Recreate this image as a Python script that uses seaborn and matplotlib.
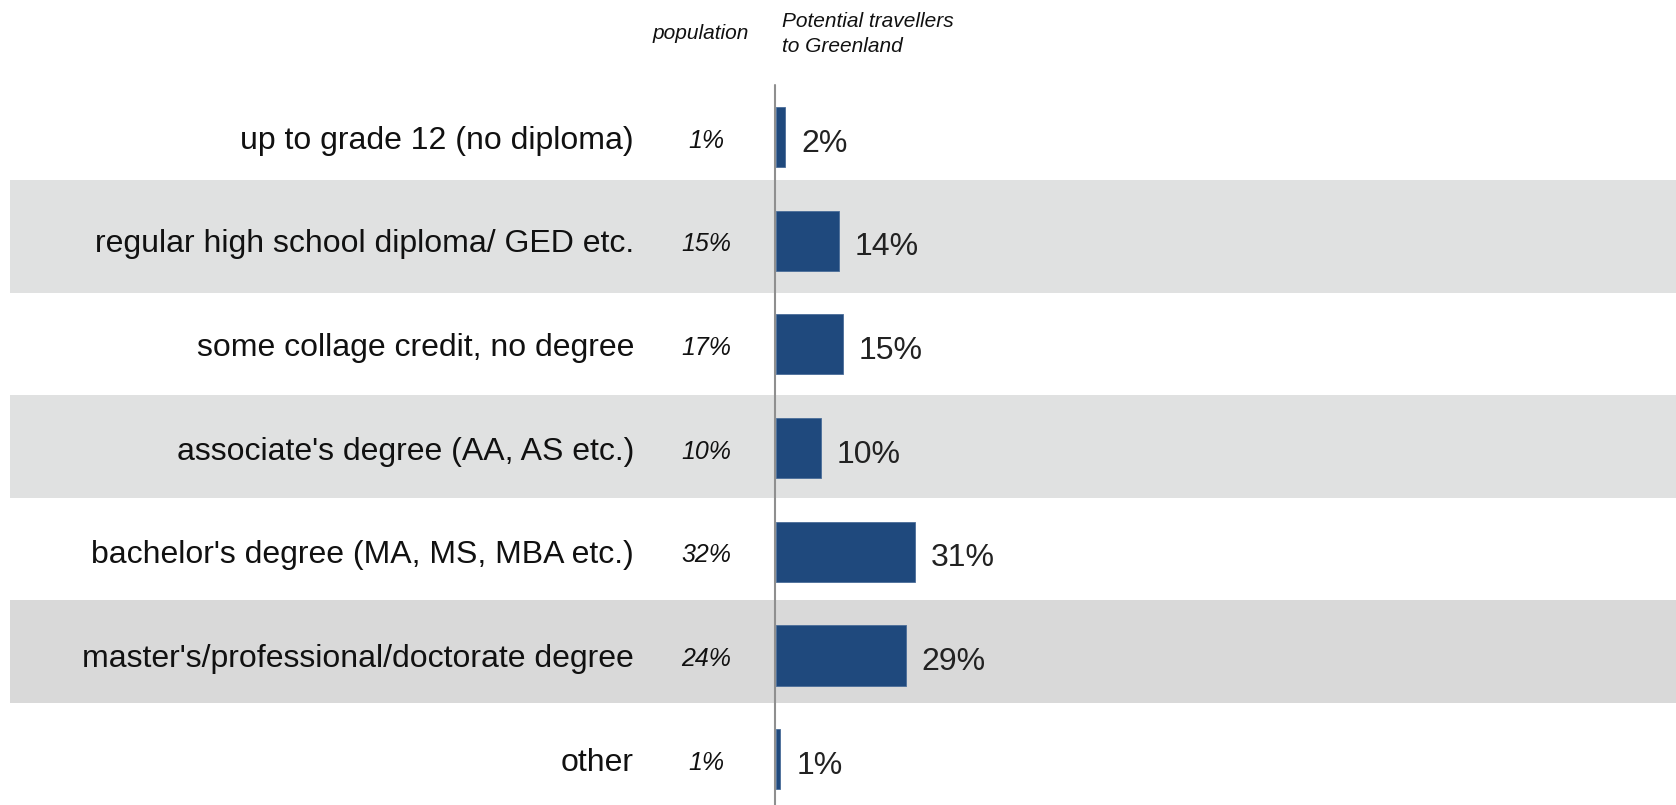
import matplotlib
matplotlib.use("Agg")
import matplotlib.pyplot as plt
import seaborn as sns
import pandas as pd

# Education levels, share of general population and of potential travellers
categories = [
    "up to grade 12 (no diploma)",
    "regular high school diploma/ GED etc.",
    "some collage credit, no degree",
    "associate's degree (AA, AS etc.)",
    "bachelor's degree (MA, MS, MBA etc.)",
    "master's/professional/doctorate degree",
    "other",
]
population = [1, 15, 17, 10, 32, 24, 1]
travellers = [2, 14, 15, 10, 31, 29, 1]

header_population = "population"
header_travellers = ["Potential travellers", "to Greenland"]

df = pd.DataFrame({"category": categories, "travellers": travellers})

sns.set_theme(style="white")
plt.rcParams["font.family"] = ["Liberation Sans", "DejaVu Sans"]

W, H, DPI = 1676, 805, 100
fig = plt.figure(figsize=(W / DPI, H / DPI), dpi=DPI)
ax = fig.add_axes([0, 0, 1, 1])

# horizontal scale: zero line at 776 px, 4.47 px per percentage point
zero_px = 776
px_per_unit = 4.47
row0_px, row_step_px = 137, 103.7

BAR_COLOR = "#1F497D"

sns.barplot(data=df, x="travellers", y="category", orient="h",
            color=BAR_COLOR, width=0.58, saturation=1, ax=ax, zorder=2,
            edgecolor="#4a6d99", linewidth=0.6)

ax.set_xlim(-zero_px / px_per_unit, (W - zero_px) / px_per_unit)
ax.set_ylim((H - row0_px) / row_step_px, -row0_px / row_step_px)

# alternating row shading
bands = [(1, 0.415, 1.504, "#e0e1e1"),
         (3, 2.488, 3.478, "#e0e1e1"),
         (5, 4.465, 5.458, "#d9d9d9")]
for _, y0, y1, col in bands:
    ax.axhspan(y0, y1, xmin=10 / W, xmax=1, color=col, zorder=0, lw=0)

# zero line
ax.axvline(-0.25, ymin=0, ymax=1 - 85 / H, color="#8f8f8f", lw=1.5, zorder=3)

ytr = ax.get_yaxis_transform()
dy_label = 3.5 / row_step_px
dy_value = 6.5 / row_step_px
for i, (cat, pop, val) in enumerate(zip(categories, population, travellers)):
    ax.text(634 / W, i + dy_label, cat, transform=ytr, ha="right", va="center",
            fontsize=23, color="#111111")
    ax.text(706 / W, i + dy_label, f"{pop}%", transform=ytr, ha="center",
            va="center", fontsize=18, style="italic", color="#111111")
    ax.text(val + 16 / px_per_unit, i + dy_value, f"{val}%", ha="left",
            va="center", fontsize=23, color="#222222", zorder=4)

fig.text(701 / W, 1 - 39 / H, header_population, ha="center", va="baseline",
         fontsize=15, style="italic", color="#111111")
for k, line in enumerate(header_travellers):
    fig.text(782 / W, 1 - (27 + 25 * k) / H, line, ha="left", va="baseline",
             fontsize=15, style="italic", color="#111111")

ax.set_axis_off()
fig.savefig("out.png", dpi=DPI, facecolor="white")
